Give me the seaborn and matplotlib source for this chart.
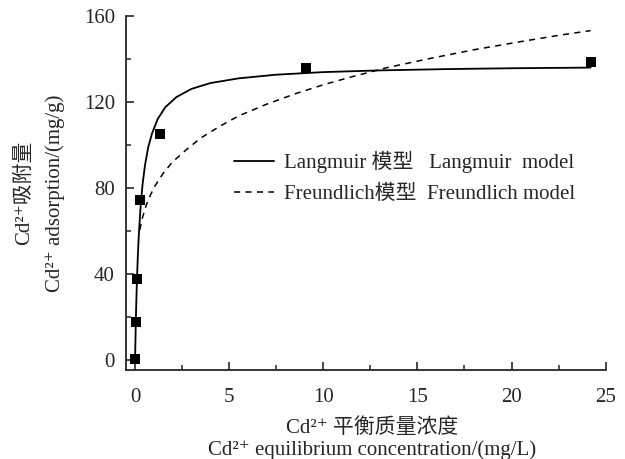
import matplotlib
matplotlib.use("Agg")
import matplotlib.pyplot as plt
import seaborn as sns
import pandas as pd
from matplotlib.ticker import MultipleLocator

# measured data
ce_obs = [0.0, 0.05, 0.12, 0.27, 1.3, 9.1, 24.2]
qe_obs = [0.5, 17.8, 37.5, 74.4, 105.1, 135.7, 138.5]

# Langmuir fit curve
lang_x = [0, 0.05, 0.1, 0.15, 0.2, 0.3, 0.4, 0.53, 0.7, 0.9, 1.2, 1.6, 2.2, 3, 4,
          5.5, 7.5, 10, 13, 16.5, 20, 24.2]
lang_y = [0, 21.3, 36.9, 48.7, 58, 72, 81.7, 90.7, 98.9, 105.3, 112, 117.5, 122.3,
          126.1, 128.8, 131, 132.7, 133.9, 134.7, 135.3, 135.7, 136]

# Freundlich fit curve
freu_x = [0.25, 0.4, 0.6, 0.8, 1.06, 1.5, 2, 2.75, 3.5, 4.5, 5.5, 7, 8.5, 10, 11.5,
          13.4, 15.7, 18, 20.5, 22.5, 24.2]
freu_y = [60.5, 66.4, 72.1, 76.4, 81, 86.9, 92.2, 98, 103.3, 108.7, 113.5, 119,
          123.8, 128, 131.7, 136, 140.3, 144.3, 148.1, 151, 153.2]

x_ticks = [0, 5, 10, 15, 20, 25]
y_ticks = [0, 40, 80, 120, 160]

label_lang = "Langmuir 模型   Langmuir  model"
label_freu = "Freundlich模型  Freundlich model"
ylabel = "Cd²⁺吸附量\nCd²⁺ adsorption/(mg/g)"
xlabel = "Cd²⁺ 平衡质量浓度\nCd²⁺ equilibrium concentration/(mg/L)"

sns.set_style("ticks")
plt.rcParams["font.family"] = ["Liberation Serif", "DejaVu Serif", "Noto Sans CJK SC"]
plt.rcParams["font.size"] = 15

fig = plt.figure(figsize=(6.25, 4.59), dpi=100)
ax = fig.add_axes([126 / 625, (459 - 370) / 459, (606 - 126) / 625, (370 - 16) / 459])

df_l = pd.DataFrame({"x": lang_x, "y": lang_y})
df_f = pd.DataFrame({"x": freu_x, "y": freu_y})
df_o = pd.DataFrame({"x": ce_obs, "y": qe_obs})

sns.lineplot(data=df_l, x="x", y="y", ax=ax, color="black", lw=1.3,
             label=label_lang, sort=False)
sns.lineplot(data=df_f, x="x", y="y", ax=ax, color="black", lw=1.1,
             linestyle=(0, (4, 3.5)), label=label_freu, sort=False)
sns.scatterplot(data=df_o, x="x", y="y", ax=ax, marker="s", color="black",
                s=50, edgecolor="black", linewidth=0, zorder=5)

ax.set_xlim(-0.48, 25.02)
ax.set_ylim(-4.65, 160)
ax.set_xticks(x_ticks)
ax.set_yticks(y_ticks)
ax.xaxis.set_minor_locator(MultipleLocator(2.5))
ax.yaxis.set_minor_locator(MultipleLocator(20))
ax.tick_params(which="major", direction="in", length=6, width=1.2, labelsize=15, pad=8)
ax.tick_params(which="minor", direction="in", length=3.5, width=1.1)
ax.tick_params(axis="x", which="major", pad=13)
for s in ["top", "right"]:
    ax.spines[s].set_visible(False)
for s in ["left", "bottom"]:
    ax.spines[s].set_linewidth(1.3)

ax.set_xlabel(xlabel, fontsize=15, labelpad=8, linespacing=1.15)
ax.set_ylabel(ylabel, fontsize=15, linespacing=1.72)
ax.xaxis.label.set_x(0.513)
ax.yaxis.set_label_coords(-0.128, 0.5)

leg = ax.legend(loc="center left", bbox_to_anchor=(0.225, 0.544), frameon=False,
                fontsize=15, handlelength=1.9, handletextpad=0.5,
                labelspacing=0.55, borderpad=0, borderaxespad=0)

fig.savefig("out.png", dpi=100)
